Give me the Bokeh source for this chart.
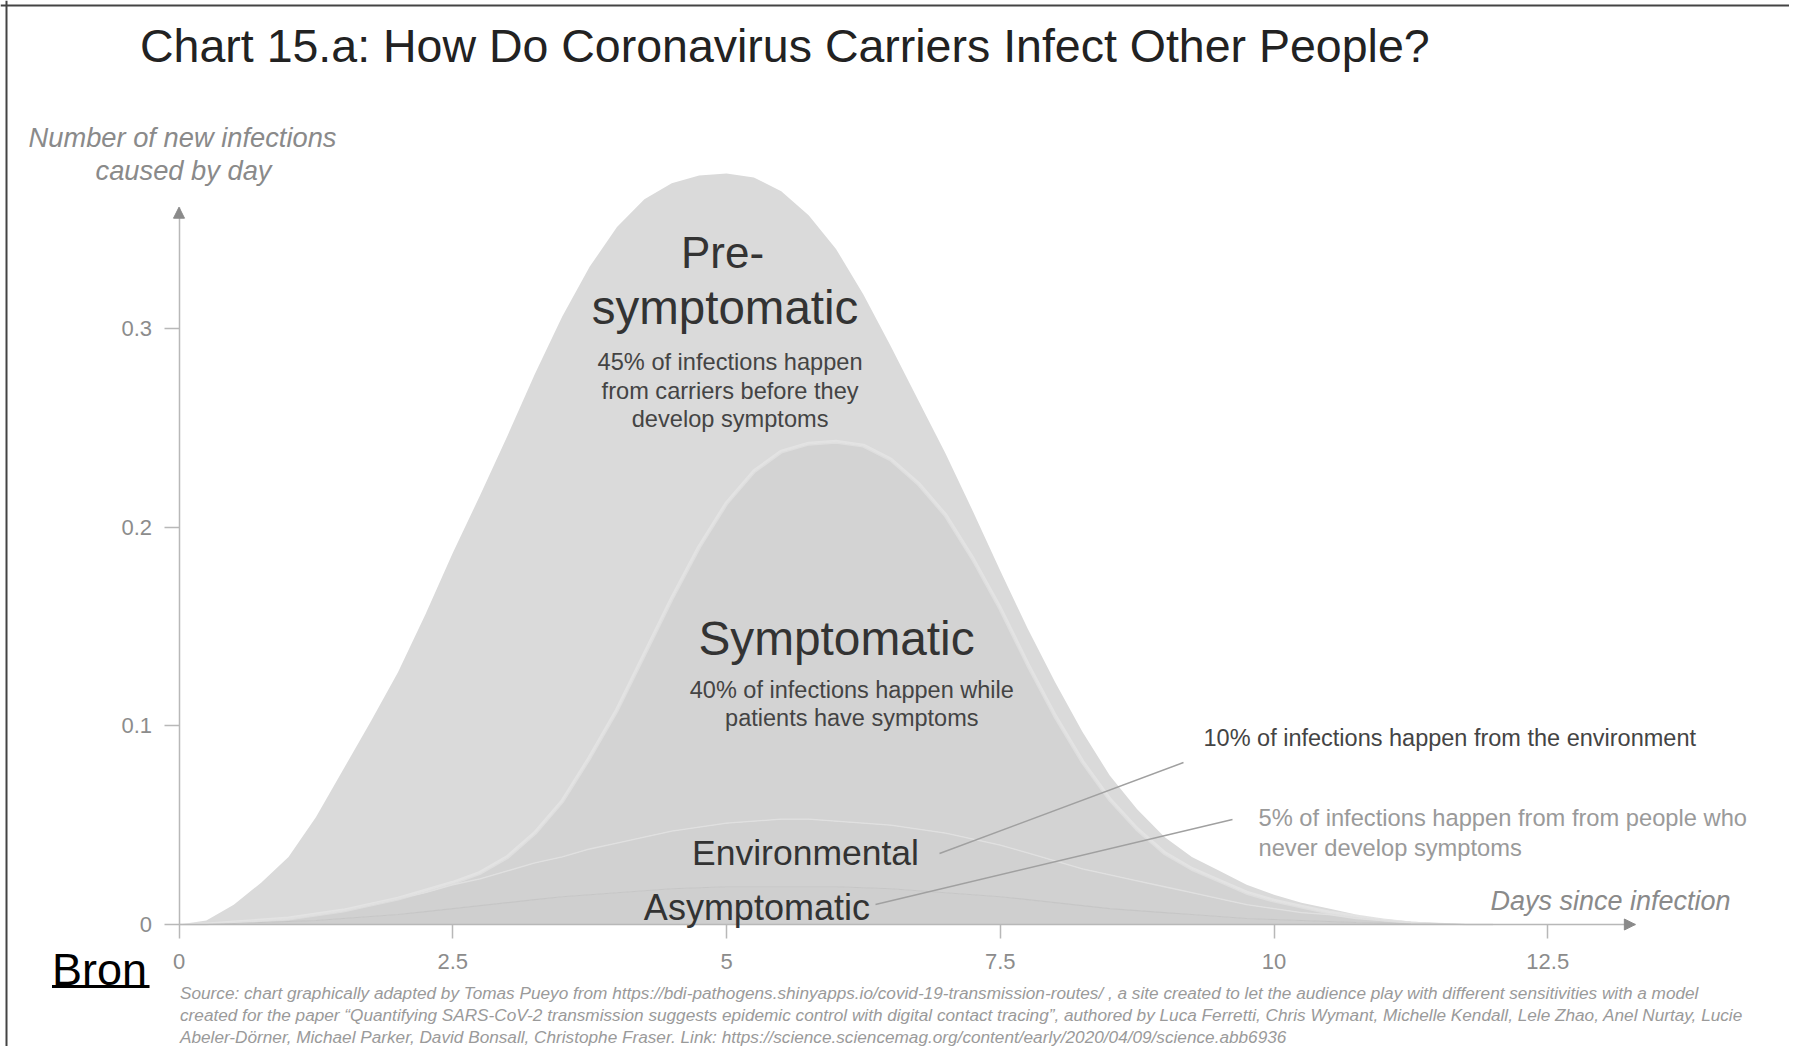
import numpy as np
from bokeh.plotting import figure
from bokeh.models import Label, Arrow, NormalHead, FixedTicker, ColumnDataSource, Range1d, Span
from bokeh.embed import file_html
from bokeh.resources import INLINE

# ---------------- data ----------------
days = [0, 0.25, 0.5, 0.75, 1, 1.25, 1.5, 1.75, 2, 2.25, 2.5, 2.75, 3, 3.25, 3.5, 3.75,
        4, 4.25, 4.5, 4.75, 5, 5.25, 5.5, 5.75, 6, 6.25, 6.5, 6.75, 7, 7.25, 7.5, 7.75,
        8, 8.25, 8.5, 8.75, 9, 9.25, 9.5, 9.75, 10, 10.25, 10.5, 10.75, 11, 11.25, 11.5, 11.75, 12]

asymptomatic = [0, 0, 0.0005, 0.001, 0.0015, 0.002, 0.003, 0.004, 0.005, 0.0065, 0.008, 0.0095,
                0.011, 0.0125, 0.014, 0.015, 0.016, 0.017, 0.018, 0.0185, 0.019, 0.019, 0.019, 0.019,
                0.019, 0.0185, 0.018, 0.017, 0.016, 0.015, 0.014, 0.0125, 0.011, 0.0095, 0.008, 0.007,
                0.006, 0.005, 0.004, 0.003, 0.0025, 0.002, 0.0015, 0.001, 0.0007, 0.0004, 0.0002, 0, 0]

environmental = [0, 0, 0.0005, 0.001, 0.0015, 0.003, 0.004, 0.006, 0.008, 0.0095, 0.012, 0.0135,
                 0.016, 0.0185, 0.020, 0.023, 0.025, 0.027, 0.029, 0.0305, 0.032, 0.033, 0.034, 0.034,
                 0.033, 0.0325, 0.032, 0.031, 0.030, 0.028, 0.026, 0.0235, 0.021, 0.0185, 0.017, 0.015,
                 0.013, 0.011, 0.009, 0.007, 0.0055, 0.004, 0.0035, 0.002, 0.0013, 0.0006, 0.0003, 0, 0]

symptomatic = [0, 0, 0, 0, 0, 0, 0, 0, 0, 0.001, 0.001, 0.003, 0.007, 0.015, 0.028, 0.046,
               0.067, 0.092, 0.117, 0.141, 0.161, 0.176, 0.185, 0.189, 0.191, 0.190, 0.184, 0.174,
               0.160, 0.141, 0.119, 0.095, 0.073, 0.054, 0.038, 0.026, 0.017, 0.012, 0.009, 0.006,
               0.004, 0.003, 0.001, 0.001, 0.0005, 0.0002, 0, 0, 0]

presymptomatic = [0, 0.002, 0.009, 0.019, 0.031, 0.049, 0.071, 0.092, 0.114, 0.139, 0.166, 0.190,
                  0.212, 0.231, 0.244, 0.247, 0.243, 0.229, 0.209, 0.187, 0.166, 0.148, 0.131, 0.115,
                  0.097, 0.076, 0.057, 0.042, 0.031, 0.024, 0.019, 0.018, 0.017, 0.015, 0.012, 0.010,
                  0.008, 0.006, 0.005, 0.004, 0.003, 0.002, 0.002, 0.001, 0.0005, 0.0003, 0.0001, 0, 0]

y_ticks = [0, 0.1, 0.2, 0.3]
y_tick_labels = ["0", "0.1", "0.2", "0.3"]
x_ticks = [0, 2.5, 5, 7.5, 10, 12.5]
x_tick_labels = ["0", "2.5", "5", "7.5", "10", "12.5"]

# ---------------- layout ----------------
W, H = 1789, 1046
PX_X0 = 178.5        # px of day 0
PX_PER_DAY = 109.5
PX_Y0 = 924.0        # px (from top) of value 0
PX_PER_UNIT = 1987.0
X_AXIS_END = 13.3
Y_AXIS_END = 0.361

x_start = -PX_X0 / PX_PER_DAY
x_end = (W - PX_X0) / PX_PER_DAY
y_end = PX_Y0 / PX_PER_UNIT
y_start = -(H - PX_Y0) / PX_PER_UNIT


def at(rx, ry):
    """picture pixel -> data coordinates (for placing annotations)"""
    return ((rx - PX_X0) / PX_PER_DAY, (PX_Y0 - ry) / PX_PER_UNIT)


FONT = "Liberation Sans"

p = figure(width=W, height=H, output_backend="svg", toolbar_location=None,
           x_range=Range1d(x_start, x_end), y_range=Range1d(y_start, y_end),
           min_border=0, outline_line_color=None,
           background_fill_color="white", border_fill_color="white")
p.title.visible = False
p.grid.visible = False

src = ColumnDataSource(dict(days=days, asym=asymptomatic, env=environmental,
                            symp=symptomatic, pre=presymptomatic))
p.varea_stack(stackers=["asym", "env", "symp", "pre"], x="days",
              color=["#cfcfcf", "#d1d1d1", "#d3d3d3", "#dadada"], source=src)

c1 = np.array(asymptomatic)
c2 = c1 + np.array(environmental)
c3 = c2 + np.array(symptomatic)
p.line(days, c3, line_color="white", line_alpha=0.25, line_width=4)
p.line(days, c3, line_color="#e2e2e2", line_width=1.2)
p.line(days, c2, line_color="#e0e0e0", line_width=1.3)
p.line(days, c1, line_color="#c6c6c6", line_width=1.1)

# axes at 0
for ax in (p.xaxis[0], p.yaxis[0]):
    ax.fixed_location = 0
    ax.axis_line_color = "#b8b8b8"
    ax.axis_line_width = 1.5
    ax.major_tick_line_color = "#b8b8b8"
    ax.major_tick_line_width = 1.5
    ax.major_tick_in = 0
    ax.minor_tick_line_color = None
    ax.major_label_text_color = "#8c8c8c"
    ax.major_label_text_font = FONT
    ax.major_label_text_font_size = "22px"

p.xaxis[0].ticker = FixedTicker(ticks=x_ticks)
p.xaxis[0].major_label_overrides = dict(zip(x_ticks, x_tick_labels))
p.xaxis[0].bounds = (0, X_AXIS_END)
p.xaxis[0].major_tick_out = 14
p.xaxis[0].major_label_standoff = 15

p.yaxis[0].ticker = FixedTicker(ticks=y_ticks)
p.yaxis[0].major_label_overrides = dict(zip(y_ticks, y_tick_labels))
p.yaxis[0].bounds = (0, Y_AXIS_END)
p.yaxis[0].major_tick_out = 15
p.yaxis[0].major_label_standoff = 12

p.add_layout(Arrow(end=NormalHead(size=11, fill_color="#8a8a8a", line_color="#8a8a8a"),
                   x_start=0, y_start=Y_AXIS_END - 0.02, x_end=0, y_end=Y_AXIS_END, line_alpha=0))
p.add_layout(Arrow(end=NormalHead(size=11, fill_color="#8a8a8a", line_color="#8a8a8a"),
                   x_start=X_AXIS_END - 0.3, y_start=0, x_end=X_AXIS_END, y_end=0, line_alpha=0))


def label(text, rx, ry, size, color, align="center", style="normal"):
    x, y = at(rx, ry)
    p.add_layout(Label(x=x, y=y, text=text, text_font=FONT, text_font_size=f"{size}px",
                       text_color=color, text_align=align, text_baseline="middle",
                       text_font_style=style))


# title and axis titles
label("Chart 15.a: How Do Coronavirus Carriers Infect Other People?", 139.5, 45, 46.5, "#222222", "left")
label("Number of new infections", 182, 137, 27.3, "#8a8a8a", "center", "italic")
label("caused by day", 183, 170, 27.3, "#8a8a8a", "center", "italic")
label("Days since infection", 1730, 900, 27, "#8a8a8a", "right", "italic")

# region labels
label("Pre-", 722, 252, 44, "#333333")
label("symptomatic", 724.5, 307, 47.5, "#333333")
label("45% of infections happen", 729.6, 361, 23.6, "#444444")
label("from carriers before they", 729.6, 390, 23.6, "#444444")
label("develop symptoms", 729.6, 418.5, 23.6, "#444444")
label("Symptomatic", 836, 638, 47.8, "#333333")
label("40% of infections happen while", 851.3, 689.5, 23.5, "#444444")
label("patients have symptoms", 851.3, 717, 23.5, "#444444")
label("Environmental", 805, 852, 35.5, "#333333")
label("Asymptomatic", 756.4, 907, 36, "#333333")
label("10% of infections happen from the environment", 1203, 737.6, 23.5, "#444444", "left")
label("5% of infections happen from from people who", 1258, 817.6, 23.7, "#9a9a9a", "left")
label("never develop symptoms", 1258, 847.3, 23.7, "#9a9a9a", "left")

# leader lines
ex0, ey0 = at(939, 853)
ex1, ey1 = at(1183, 762)
ax0, ay0 = at(875, 904)
ax1, ay1 = at(1232, 819)
p.segment(x0=[ex0, ax0], y0=[ey0, ay0], x1=[ex1, ax1], y1=[ey1, ay1],
          line_color="#a0a0a0", line_width=1.5)

# Bron + underline
label("Bron", 51.5, 969, 45, "#000000", "left")
ux0, uy = at(51.5, 986)
ux1, _ = at(149, 986)
p.segment(x0=[ux0], y0=[uy], x1=[ux1], y1=[uy], line_color="#000000", line_width=3)

# source text
src_lines = [
    "Source: chart graphically adapted by Tomas Pueyo from https://bdi-pathogens.shinyapps.io/covid-19-transmission-routes/ , a site created to let the audience play with different sensitivities with a model",
    "created for the paper \u201cQuantifying SARS-CoV-2 transmission suggests epidemic control with digital contact tracing\u201d, authored by Luca Ferretti, Chris Wymant, Michelle Kendall, Lele Zhao, Anel Nurtay, Lucie",
    "Abeler-D\u00f6rner, Michael Parker, David Bonsall, Christophe Fraser. Link: https://science.sciencemag.org/content/early/2020/04/09/science.abb6936",
]
for i, t in enumerate(src_lines):
    label(t, 179.5, 992.6 + 21.7 * i, 17.2, "#9a9a9a", "left", "italic")

# frame lines (top and left edges of the picture)
p.add_layout(Span(location=at(0, 5)[1], dimension="width", line_color="#444444", line_width=2))
p.add_layout(Span(location=at(6, 0)[0], dimension="height", line_color="#444444", line_width=2))

open("out.html", "w").write(file_html(p, INLINE))
